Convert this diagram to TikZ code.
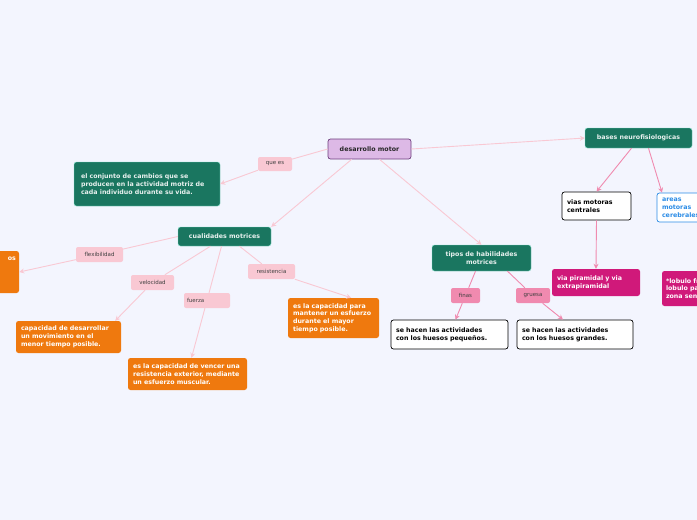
\documentclass[tikz,border=0pt]{standalone}
\usepackage{fontspec}
\setmainfont{DejaVu Sans}
\usetikzlibrary{arrows.meta}
\hyphenpenalty=10000
\exhyphenpenalty=10000
\definecolor{bg}{HTML}{F3F5FE}
\definecolor{teal}{HTML}{1A7660}
\definecolor{tealb}{HTML}{7FE0C8}
\definecolor{org}{HTML}{EF790E}
\definecolor{mag}{HTML}{D0197A}
\definecolor{lp}{HTML}{F9C8D3}
\definecolor{dp}{HTML}{F08AAF}
\definecolor{pur}{HTML}{DDB9E6}
\definecolor{purb}{HTML}{6E3F7E}
\definecolor{blu}{HTML}{2B8CE6}
\tikzset{
 x=1pt,y=-1pt,
 base/.style={rounded corners=2.5pt,inner sep=0pt,font=\fontsize{6.3}{7.8}\selectfont\bfseries},
 tealbox/.style={base,fill=teal,draw=tealb,text=white!90!teal},
 orgbox/.style={base,fill=org,text=white,align=left},
 wbox/.style={base,fill=white,draw=black,line width=0.7pt,align=left},
 magbox/.style={base,fill=mag,text=white,align=left},
 lab/.style={rounded corners=2pt,fill=lp,inner sep=0pt,font=\fontsize{5.5}{6}\selectfont,text=black!75},
 dlab/.style={lab,fill=dp},
 ln/.style={draw=lp,line width=0.9pt},
 dln/.style={draw=dp,line width=0.9pt},
 arr/.style={-{Stealth[length=5pt,width=5pt]}},
}
\begin{document}
\begin{tikzpicture}
\useasboundingbox (0,0) rectangle (697,520);
\fill[bg] (0,0) rectangle (697,520);
\clip (0,0) rectangle (697,520);
% main
\node[base,fill=pur,draw=purb,line width=0.7pt,minimum width=83pt,minimum height=20pt,text=black!85] (dm) at (369.5,149) {desarrollo motor};
\node[tealbox,minimum width=146pt,minimum height=44pt,text width=132pt,align=left] (conj) at (147,184) {el conjunto de cambios que se producen en la actividad motriz de cada individuo durante su vida.};
\node[tealbox,minimum width=93pt,minimum height=19pt] (cual) at (224.5,236.5) {cualidades motrices};
\node[orgbox,minimum width=40pt,minimum height=42pt,text width=34pt,align=right] (flexb) at (-1,272) {os\\[18pt]~};
\node[orgbox,minimum width=105pt,minimum height=32pt,text width=95pt] (velb) at (68.5,337) {capacidad de desarrollar un movimiento en el menor tiempo posible.};
\node[orgbox,minimum width=119pt,minimum height=32pt,text width=109pt] (fueb) at (187.5,374) {es la capacidad de vencer una resistencia exterior, mediante un esfuerzo muscular.};
\node[orgbox,minimum width=91pt,minimum height=40pt,text width=81pt] (resb) at (333.5,318) {es la capacidad para mantener un esfuerzo durante el mayor tiempo posible.};
\node[tealbox,minimum width=99pt,minimum height=26pt,align=center] (tipos) at (481.5,258) {tipos de habilidades\\motrices};
\node[wbox,minimum width=117pt,minimum height=29pt,text width=107pt] (finb) at (449.5,334.5) {se hacen las actividades\\con los huesos pequeños.};
\node[wbox,minimum width=116pt,minimum height=29pt,text width=106pt] (grub) at (575,334.5) {se hacen las actividades\\con los huesos grandes.};
\node[tealbox,minimum width=107pt,minimum height=20pt] (bases) at (638.5,138) {bases neurofisiologicas};
\node[wbox,minimum width=69pt,minimum height=28pt,text width=59pt] (vias) at (596.5,206) {vias motoras centrales};
\node[magbox,minimum width=88pt,minimum height=27pt,text width=78pt] (pir) at (596,282.5) {via piramidal y via extrapiramidal};
\node[base,fill=white,draw=blu,line width=0.7pt,text=blu,minimum width=60pt,minimum height=29pt,text width=50pt,align=left] (areas) at (687,207.5) {areas motoras cerebrales};
\node[magbox,minimum width=60pt,minimum height=35pt,text width=52pt] (lob) at (692,288.5) {*lobulo frontal\\*lobulo parietal\\*zona sensorial};
% labels
\node[lab,minimum width=34pt,minimum height=14pt] (qe) at (275,164) {que es};
\node[lab,minimum width=47pt,minimum height=15pt] (fl) at (99.5,254.5) {flexibilidad};
\node[lab,minimum width=43pt,minimum height=15pt] (ve) at (152.5,282.5) {velocidad};
\node[lab,minimum width=46pt,minimum height=15pt,text width=40pt,align=left] (fu) at (207,300.5) {fuerza};
\node[lab,minimum width=47pt,minimum height=15pt] (re) at (271.5,271.5) {resistencia};
\node[dlab,minimum width=29pt,minimum height=15pt] (fi) at (465.5,295.5) {finas};
\node[dlab,minimum width=34pt,minimum height=15pt] (gr) at (533,295.5) {gruesa};
% connectors
\draw[ln] (dm.west) -- (qe);
\draw[ln,arr] (qe) -- (conj.east);
\draw[ln,arr] (dm.south west)++(24,0) -- (cual.north east);
\draw[ln,arr] (dm.south)++(10,0) -- (tipos.north);
\draw[ln,arr] (dm.east) -- (bases.west);
\draw[ln] (cual.west) -- (fl);
\draw[ln,arr] (fl) -- (flexb.east);
\draw[ln] (cual.south)++(-14,0) -- (ve);
\draw[ln,arr] (ve) -- ([xshift=-6pt]velb.north east);
\draw[ln] (cual.south)++(-3,0) -- (fu);
\draw[ln,arr] (fu) -- ([xshift=4pt]fueb.north);
\draw[ln] (cual.south)++(15,0) -- (re);
\draw[ln,arr] (re) -- ([xshift=-28pt]resb.north east);
\draw[dln] ([xshift=-6pt]tipos.south) -- (fi);
\draw[dln,arr] (fi) -- ([xshift=6pt]finb.north);
\draw[dln] ([xshift=26pt]tipos.south) -- (gr);
\draw[dln,arr] (gr) -- ([xshift=-12pt]grub.north);
\draw[dln,arr] ([xshift=-7pt]bases.south) -- (vias.north);
\draw[dln,arr] ([xshift=10pt]bases.south) -- ([xshift=-25pt]areas.north);
\draw[dln,arr] (vias.south) -- (pir.north);
\end{tikzpicture}
\end{document}
